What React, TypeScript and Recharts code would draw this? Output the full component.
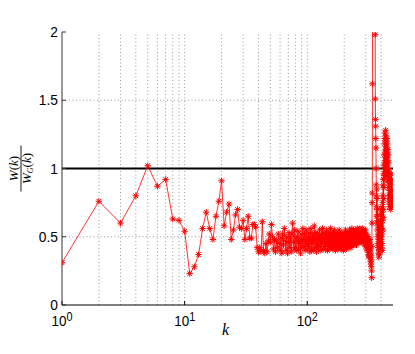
import { Line, LineChart, ReferenceLine, XAxis, YAxis } from 'recharts';

// W(k)/W_G(k), one value per integer k
const headStart = 1;
const headValues = [
  0.31, 0.76, 0.6, 0.8, 1.02, 0.87, 0.92, 0.63, 0.62, 0.54,
  0.23, 0.28, 0.37, 0.56, 0.68, 0.56, 0.48, 0.65, 0.76, 0.91,
  0.58, 0.68, 0.74, 0.48, 0.55, 0.66, 0.7, 0.57, 0.56, 0.62,
  0.48, 0.56, 0.65, 0.49, 0.49, 0.59, 0.59, 0.57, 0.42, 0.39,
];

const bandStart = 41;
const bandValues = [
  0.42, 0.39, 0.61, 0.4, 0.38, 0.45, 0.39, 0.47, 0.52, 0.46,
  0.59, 0.5, 0.41, 0.48, 0.39, 0.47, 0.42, 0.52, 0.45, 0.4,
  0.49, 0.38, 0.52, 0.44, 0.56, 0.47, 0.4, 0.5, 0.38, 0.46,
  0.53, 0.42, 0.49, 0.39, 0.52, 0.6, 0.46, 0.41, 0.55, 0.42,
  0.5, 0.4, 0.47, 0.54, 0.41, 0.49, 0.45, 0.38, 0.52, 0.47,
  0.42, 0.56, 0.48, 0.43, 0.52, 0.4, 0.47, 0.55, 0.45, 0.41,
  0.5, 0.43, 0.53, 0.47, 0.39, 0.49, 0.56, 0.45, 0.41, 0.52,
  0.47, 0.4, 0.5, 0.58, 0.48, 0.42, 0.53, 0.45, 0.39, 0.49,
  0.52, 0.44, 0.41, 0.5, 0.47, 0.55, 0.43, 0.49, 0.4, 0.52,
  0.45, 0.5, 0.56, 0.47, 0.41, 0.49, 0.53, 0.43, 0.47, 0.52,
  0.41, 0.49, 0.45, 0.55, 0.47, 0.4, 0.5, 0.53, 0.45, 0.43,
  0.52, 0.48, 0.41, 0.47, 0.56, 0.44, 0.5, 0.42, 0.49, 0.53,
  0.47, 0.41, 0.52, 0.44, 0.49, 0.55, 0.42, 0.47, 0.5, 0.4,
  0.48, 0.53, 0.44, 0.5, 0.42, 0.47, 0.52, 0.41, 0.49, 0.45,
  0.5, 0.55, 0.47, 0.42, 0.49, 0.52, 0.44, 0.41, 0.5, 0.47,
  0.53, 0.43, 0.49, 0.45, 0.52, 0.47, 0.4, 0.5, 0.48, 0.44,
  0.52, 0.47, 0.43, 0.5, 0.55, 0.44, 0.49, 0.41, 0.52, 0.47,
  0.5, 0.43, 0.53, 0.48, 0.44, 0.5, 0.47, 0.52, 0.42, 0.49,
  0.55, 0.47, 0.5, 0.44, 0.52, 0.48, 0.42, 0.53, 0.47, 0.5,
  0.56, 0.48, 0.44, 0.52, 0.47, 0.5, 0.55, 0.44, 0.49, 0.52,
  0.47, 0.5, 0.53, 0.48, 0.44, 0.52, 0.55, 0.47, 0.5, 0.48,
  0.53, 0.44, 0.52, 0.48, 0.56, 0.5, 0.46, 0.52, 0.48, 0.53,
  0.5, 0.55, 0.46, 0.52, 0.48, 0.53, 0.5, 0.56, 0.46, 0.52,
  0.48, 0.54, 0.5, 0.53, 0.46, 0.51, 0.55, 0.48, 0.52, 0.5,
  0.53, 0.48, 0.56, 0.51, 0.46, 0.53, 0.5, 0.55, 0.48, 0.52,
  0.46, 0.53, 0.5, 0.44, 0.52, 0.48, 0.55, 0.46, 0.5, 0.43,
];

const dropStart = 301;
const dropValues = [
  0.48, 0.46, 0.52, 0.44, 0.47, 0.41, 0.5, 0.45, 0.4, 0.47,
  0.44, 0.5, 0.4, 0.46, 0.42, 0.37, 0.45, 0.36, 0.42, 0.35,
  0.46, 0.4, 0.48, 0.37, 0.43, 0.35, 0.41, 0.32, 0.38, 0.3,
  0.36, 0.28, 0.33, 0.25, 0.2, 0.43, 0.6, 0.75, 0.82, 1.62,
];

// above the axis limit, clipped like in the figure
const spikeStart = 341;
const spikeValues = [2.6, 3.1, 2.8, 3.4, 2.9, 3.2, 2.7, 3.0, 2.5, 3.3, 2.8, 3.1, 2.6, 2.9, 3.2, 2.7, 2.4];

const tailStart = 358;
const tailValues = [
  1.98, 1.51, 1.36, 1.31, 1.22, 1.15, 1.0, 0.88,
  0.8, 0.72, 0.85, 0.65, 0.78, 0.6, 0.7, 0.55, 0.66, 0.5, 0.62, 0.45, 0.58, 0.42, 0.52,
  0.38, 0.48, 0.35, 0.44, 0.4, 0.52, 0.37, 0.47, 0.43, 0.55, 0.41, 0.5, 0.46, 0.58, 0.44, 0.62, 0.5, 0.66, 0.55, 0.7,
  0.48, 0.6, 0.42, 0.56, 0.65, 0.45, 0.72, 0.52, 0.68, 0.4, 0.62, 0.75, 0.55, 0.8, 0.64, 0.88, 0.7, 0.92, 0.78, 0.96,
  0.86, 1.02, 0.92, 1.1, 0.95, 1.18, 1.04, 1.22, 0.98, 1.12, 1.26, 1.06, 1.2, 1.0, 1.28, 1.14, 1.08, 1.24, 1.02, 1.16,
  1.05, 1.2, 0.98, 1.15, 1.08, 1.22, 0.96, 1.12, 1.02, 1.18, 0.94, 1.1, 1.0, 1.14, 0.92, 1.06, 0.98, 1.1, 0.9, 1.04,
  0.86, 0.98, 0.8, 0.94, 0.76, 0.9, 0.84, 0.72, 0.96, 0.8, 0.88, 0.74, 0.92, 0.78, 0.86, 0.7, 0.84, 0.76, 0.9, 0.72,
  0.82, 0.96, 0.74, 0.88, 0.78, 0.92, 0.72, 0.84, 0.8, 0.76,
];

const majorTicks = [1, 10, 100];
const minorTicks = [2, 3, 4, 5, 6, 7, 8, 9, 20, 30, 40, 50, 60, 70, 80, 90, 200, 300, 400];
const gridX = [2, 3, 4, 5, 6, 7, 8, 9, 10, 20, 30, 40, 50, 60, 70, 80, 90, 100, 200, 300, 400];
const yTicks = [0, 0.5, 1, 1.5, 2];
const gridY = [0.5, 1.5];

const segments: [number, number[]][] = [
  [headStart, headValues],
  [bandStart, bandValues],
  [dropStart, dropValues],
  [spikeStart, spikeValues],
  [tailStart, tailValues],
];
const data = segments.flatMap(([start, vals]) => vals.map((v, i) => ({ k: start + i, ratio: v })));

const font = 'Liberation Sans, Arial, Helvetica, sans-serif';
const serif = 'Liberation Serif, DejaVu Serif, serif';

const Star = ({ cx, cy }: any) => {
  if (cx == null || cy == null) return null;
  const r = 3.2;
  const d = 2.3;
  return (
    <g stroke="#ff0000" strokeWidth={1}>
      <line x1={cx - r} y1={cy} x2={cx + r} y2={cy} />
      <line x1={cx} y1={cy - r} x2={cx} y2={cy + r} />
      <line x1={cx - d} y1={cy - d} x2={cx + d} y2={cy + d} />
      <line x1={cx - d} y1={cy + d} x2={cx + d} y2={cy - d} />
    </g>
  );
};

const LeftTick = ({ x, y, payload }: any) => (
  <text
    x={0}
    y={0}
    transform={`translate(${x},${y}) scale(0.92,1)`}
    textAnchor="end"
    dominantBaseline="central"
    fontSize={15}
    fontFamily={font}
    fill="#000"
  >
    {payload.value}
  </text>
);

const PowerTick = ({ x, y, payload }: any) => (
  <text x={0} y={0} transform={`translate(${x},${y}) scale(0.9,1)`} textAnchor="middle" fontSize={15} fontFamily={font} fill="#000">
    <tspan>10</tspan>
    <tspan dy={-5} fontSize={12}>{Math.round(Math.log10(payload.value))}</tspan>
  </text>
);

const NoTick = () => <g />;

const YLabel = ({ viewBox }: any) => {
  const cx = viewBox.x - 1;
  const cy = viewBox.y + viewBox.height / 2;
  return (
    <g transform={`translate(${cx},${cy}) rotate(-90)`} fontFamily={serif} fontSize={13} fill="#000">
      <text x={0} y={-3} textAnchor="middle">
        <tspan fontStyle="italic">W</tspan>(<tspan fontStyle="italic">k</tspan>)
      </text>
      <line x1={-23} x2={23} y1={0} y2={0} stroke="#000" strokeWidth={0.9} />
      <text x={0} y={10} textAnchor="middle">
        <tspan fontStyle="italic">W</tspan>
        <tspan fontStyle="italic" fontSize={8} dy={2}>G</tspan>
        <tspan dy={-2}>(</tspan>
        <tspan fontStyle="italic">k</tspan>)
      </text>
    </g>
  );
};

const XLabel = ({ viewBox }: any) => (
  <text x={viewBox.x + viewBox.width / 2 - 2} y={viewBox.y + 30} textAnchor="middle" fontFamily={serif} fontStyle="italic" fontSize={16} fill="#000">
    k
  </text>
);

export default function App() {
  return (
    <div style={{ position: 'absolute', left: 0, top: 0, background: '#fff' }}>
      <LineChart width={415} height={354} data={data} margin={{ top: 32, right: 22, bottom: 19, left: 22 }}>
        <XAxis xAxisId="minor" dataKey="k" type="number" scale="log" domain={[1, 500]} allowDataOverflow ticks={minorTicks} interval={0} height={0} tickSize={-2} tick={NoTick} axisLine={false} tickLine={{ stroke: '#000' }} />
        <XAxis
          xAxisId="main"
          dataKey="k"
          type="number"
          scale="log"
          domain={[1, 500]}
          allowDataOverflow
          ticks={majorTicks}
          interval={0}
          height={30}
          tickSize={-4}
          tickMargin={25}
          tick={PowerTick}
          axisLine={{ stroke: '#000' }}
          tickLine={{ stroke: '#000' }}
          label={{ content: XLabel }}
        />
        <XAxis xAxisId="topMinor" orientation="top" dataKey="k" type="number" scale="log" domain={[1, 500]} allowDataOverflow ticks={minorTicks} interval={0} height={0} tickSize={-2} tick={NoTick} axisLine={false} tickLine={{ stroke: '#777' }} />
        <XAxis xAxisId="top" orientation="top" dataKey="k" type="number" scale="log" domain={[1, 500]} allowDataOverflow ticks={majorTicks} interval={0} height={0} tickSize={-4} tick={NoTick} axisLine={{ stroke: '#8a8a8a' }} tickLine={{ stroke: '#777' }} />
        <YAxis
          yAxisId="left"
          domain={[0, 2]}
          allowDataOverflow
          ticks={yTicks}
          interval={0}
          width={40}
          tickSize={-4}
          tickMargin={8}
          tick={LeftTick}
          axisLine={{ stroke: '#333' }}
          tickLine={{ stroke: '#333' }}
          label={{ content: YLabel }}
        />
        <YAxis yAxisId="right" orientation="right" domain={[0, 2]} allowDataOverflow ticks={yTicks} interval={0} width={0} tickSize={-4} tick={NoTick} axisLine={{ stroke: '#8a8a8a' }} tickLine={{ stroke: '#777' }} />
        {gridX.map((v) => (
          <ReferenceLine key={`gx${v}`} xAxisId="main" yAxisId="left" x={v} stroke="#6f6f6f" strokeWidth={0.7} strokeDasharray="1 2.5" />
        ))}
        {gridY.map((v) => (
          <ReferenceLine key={`gy${v}`} xAxisId="main" yAxisId="left" y={v} stroke="#6f6f6f" strokeWidth={0.7} strokeDasharray="1 2.5" />
        ))}
        <ReferenceLine xAxisId="main" yAxisId="left" y={1} stroke="#000" strokeWidth={2.2} />
        <Line
          xAxisId="main"
          yAxisId="left"
          dataKey="ratio"
          stroke="#ff0000"
          strokeWidth={0.8}
          dot={<Star />}
          isAnimationActive={false}
        />
      </LineChart>
    </div>
  );
}
